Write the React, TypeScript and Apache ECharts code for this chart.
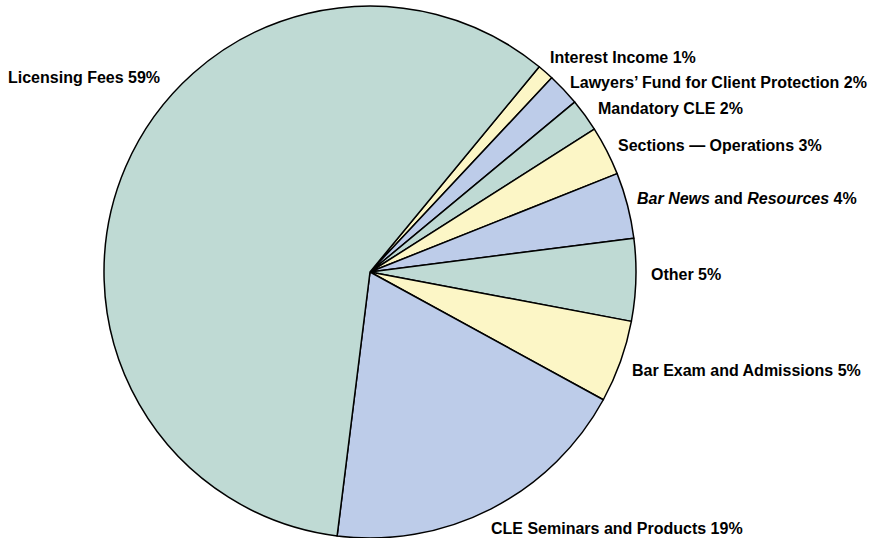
import React, { useEffect, useRef } from "react";
import * as echarts from "echarts";

const categories = [
  "Interest Income",
  "Lawyers’ Fund for Client Protection",
  "Mandatory CLE",
  "Sections — Operations",
  "Bar News and Resources",
  "Other",
  "Bar Exam and Admissions",
  "CLE Seminars and Products",
  "Licensing Fees",
];
const values = [1, 2, 2, 3, 4, 5, 5, 19, 59];
const colors = ["#fcf6c6", "#bdcce9", "#bfdad4", "#fcf6c6", "#bdcce9", "#bfdad4", "#fcf6c6", "#bdcce9", "#bfdad4"];
// label anchor points (left edge, vertical middle)
const labelPositions: [number, number][] = [
  [550, 57],
  [570, 82],
  [598, 108],
  [618, 145],
  [637, 198],
  [651, 274],
  [632, 370],
  [491, 528],
  [8, 77],
];

export default function App() {
  const ref = useRef<HTMLDivElement>(null);
  useEffect(() => {
    if (!ref.current) return;
    const chart = echarts.init(ref.current, undefined, { renderer: "svg" });
    chart.setOption({
      animation: false,
      backgroundColor: "#ffffff",
      series: [
        {
          type: "pie",
          center: [370, 272],
          radius: [0, 266],
          startAngle: 50.5,
          clockwise: true,
          avoidLabelOverlap: false,
          data: categories.map((name, i) => ({
            name,
            value: values[i],
            itemStyle: { color: colors[i] },
          })),
          itemStyle: { borderColor: "#000000", borderWidth: 1.5 },
          label: {
            show: true,
            position: "outside",
            fontFamily: "Liberation Sans, Arial, sans-serif",
            fontWeight: "bold",
            fontSize: 16,
            color: "#000000",
            formatter: (p: any) => {
              if (p.name === "Bar News and Resources") {
                return "{i|Bar News} and {i|Resources} " + p.value + "%";
              }
              return p.name + " " + p.value + "%";
            },
            rich: {
              i: {
                fontStyle: "italic",
                fontWeight: "bold",
                fontSize: 16,
                fontFamily: "Liberation Sans, Arial, sans-serif",
                color: "#000000",
              },
            },
          },
          labelLine: { show: false },
          labelLayout: (params: any) => {
            const pos = labelPositions[params.dataIndex];
            return { x: pos[0], y: pos[1], align: "left", verticalAlign: "middle" };
          },
          emphasis: { disabled: true },
        },
      ],
    });
    return () => chart.dispose();
  }, []);
  return (
    <div
      ref={ref}
      style={{ position: "fixed", left: 0, top: 0, width: 870, height: 538 }}
    />
  );
}
